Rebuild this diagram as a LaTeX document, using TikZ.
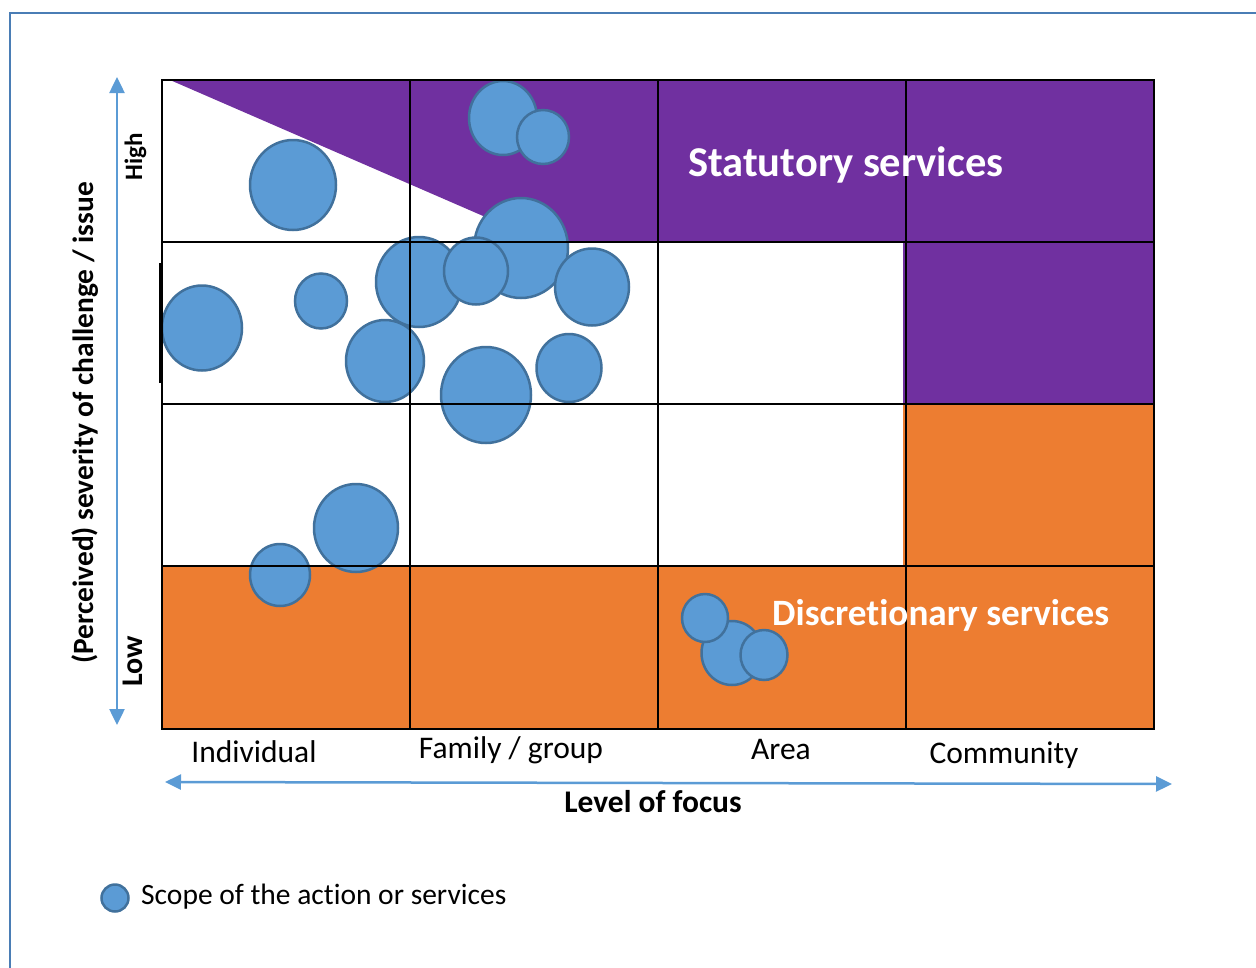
\documentclass[tikz,border=0pt]{standalone}
\usepackage{fontspec}
\setmainfont[Ligatures={NoCommon,NoRare,NoContextual}]{Carlito}
\usetikzlibrary{arrows.meta,shapes.geometric}
\definecolor{bubblefill}{HTML}{5B9BD5}
\definecolor{bubbleline}{HTML}{41719C}
\definecolor{statpurple}{HTML}{7030A0}
\definecolor{discorange}{HTML}{ED7D31}
\definecolor{axisblue}{HTML}{5B9BD5}
\definecolor{framecol}{HTML}{4A7DB5}
\tikzset{
  bubble/.style={ellipse, draw=bubbleline, fill=bubblefill, line width=2.5pt, inner sep=0pt},
  gridline/.style={draw=black, line width=1.6pt},
  axisarrow/.style={draw=axisblue, line width=2.5pt, {Triangle[length=16pt,width=15pt]}-{Triangle[length=16pt,width=15pt]}},
  lbl/.style={inner sep=0pt, font=\fontsize{31.5}{36}\selectfont},
  boldlbl/.style={inner sep=0pt, font=\fontsize{31.5}{36}\selectfont\bfseries},
  whitelbl/.style={inner sep=0pt, text=white, anchor=base west},
}
\begin{document}
\begin{tikzpicture}[x=1pt,y=-1pt]
\useasboundingbox (0,0) rectangle (1256,967);
% frame
\draw[framecol, line width=2.5pt] (10,975) -- (10,13) -- (1265,13);
% coloured regions
\fill[statpurple] (170,80) -- (1154,80) -- (1154,404) -- (903,404) -- (903,242) -- (543,242) -- cycle;
\fill[discorange] (162,566) -- (1154,566) -- (1154,729) -- (162,729) -- cycle;
\fill[discorange] (903,404) -- (1154,404) -- (1154,566) -- (903,566) -- cycle;
% bubbles
\node[bubble, minimum width=68pt, minimum height=74pt] (b1) at (503,118) {};
\node[bubble, minimum width=52pt, minimum height=54pt] (b2) at (543,137) {};
\node[bubble, minimum width=86pt, minimum height=90pt] (b3) at (293,185) {};
\node[bubble, minimum width=94pt, minimum height=100pt] (b4) at (521,248) {};
\node[bubble, minimum width=86pt, minimum height=90pt] (b5) at (419,282) {};
\node[bubble, minimum width=64pt, minimum height=67pt] (b6) at (476,271) {};
\node[bubble, minimum width=74pt, minimum height=77pt] (b7) at (592,287) {};
\node[bubble, minimum width=52pt, minimum height=55pt] (b8) at (321,301) {};
\node[bubble, minimum width=80pt, minimum height=85pt] (b9) at (202,328) {};
\node[bubble, minimum width=78pt, minimum height=82pt] (b10) at (385,361) {};
\node[bubble, minimum width=90pt, minimum height=96pt] (b11) at (486,395) {};
\node[bubble, minimum width=65pt, minimum height=68pt] (b12) at (569,368) {};
\node[bubble, minimum width=84pt, minimum height=88pt] (b13) at (356,528) {};
\node[bubble, minimum width=60pt, minimum height=62pt] (b14) at (280,575) {};
\node[bubble, minimum width=61pt, minimum height=64pt] (b16) at (732,653) {};
\node[bubble, minimum width=46pt, minimum height=48pt] (b15) at (705,618) {};
\node[bubble, minimum width=47pt, minimum height=50pt] (b17) at (764,655) {};
% grid
\draw[gridline] (162,80) rectangle (1154,729);
\foreach \gx in {410,658,906} \draw[gridline] (\gx,80) -- (\gx,729);
\foreach \gy in {242,404,566} \draw[gridline] (162,\gy) -- (1154,\gy);
\draw[black, line width=3pt] (160,263) -- (160,383);
% region labels
\node[whitelbl, font=\fontsize{42.5}{48}\selectfont\bfseries] (stat) at (688,176) {Statutory services};
\node[whitelbl, font=\fontsize{37.2}{42}\selectfont\bfseries] (disc) at (772,625) {Discretionary services};
% axes
\coordinate (ytop) at (117,77);
\coordinate (ybot) at (117,725);
\coordinate (xleft) at (165,782);
\coordinate (xright) at (1172,784);
\draw[axisarrow] (ybot) -- (ytop);
\draw[axisarrow] (xleft) -- (xright);
% axis labels
\node[lbl, anchor=base] (ind) at (254,762) {Individual};
\node[lbl, anchor=base] (fam) at (511,758) {Family / group};
\node[lbl, anchor=base] (area) at (781,759) {Area};
\node[lbl, anchor=base] (comm) at (1004,763) {Community};
\node[boldlbl, anchor=base] (focus) at (653,812) {Level of focus};
\node[inner sep=0pt, anchor=base, rotate=90, font=\fontsize{29.4}{34}\selectfont\bfseries] (sev) at (93,423) {(Perceived) severity of challenge / issue};
\node[inner sep=0pt, anchor=base, rotate=90, font=\fontsize{25}{30}\selectfont\bfseries] (high) at (142,157) {High};
\node[inner sep=0pt, anchor=base, rotate=90, font=\fontsize{30}{36}\selectfont\bfseries] (low) at (142,661) {Low};
% legend
\node[bubble, minimum width=27pt, minimum height=27pt] (legb) at (115,898) {};
\node[inner sep=0pt, anchor=base west, font=\fontsize{29.5}{34}\selectfont] (legt) at (141,904) {Scope of the action or services};
\end{tikzpicture}
\end{document}
